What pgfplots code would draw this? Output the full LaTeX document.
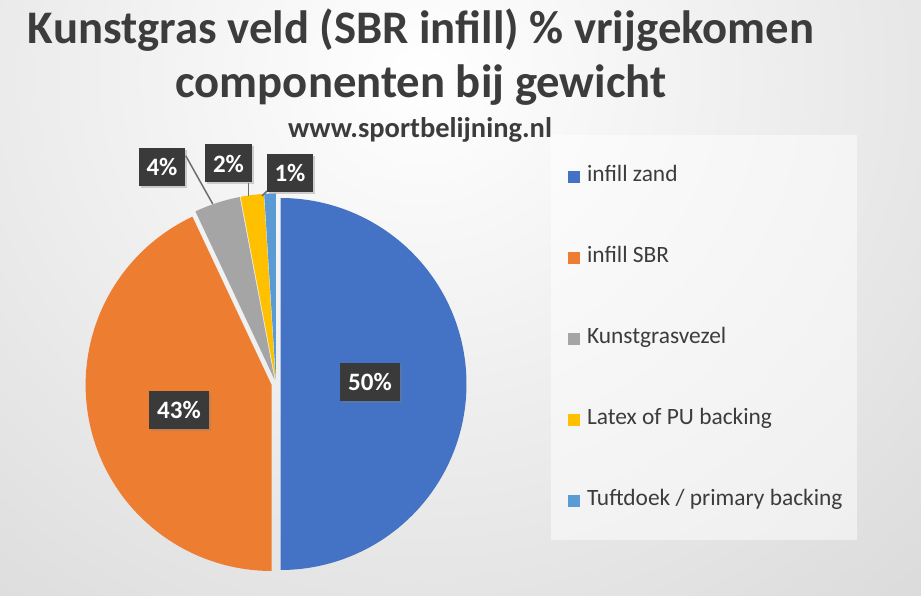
\documentclass[border=0pt]{standalone}
\usepackage{fontspec}
\setmainfont{Carlito}
\usepackage{pgfplots}
\pgfplotsset{compat=1.18}
\usetikzlibrary{shadows}
\definecolor{cA}{HTML}{4472C4}
\definecolor{cB}{HTML}{ED7D31}
\definecolor{cC}{HTML}{A5A5A5}
\definecolor{cD}{HTML}{FFC000}
\definecolor{cE}{HTML}{5B9BD5}
\definecolor{bgc}{HTML}{C6C6C6}
\definecolor{txt}{HTML}{3C3C3C}
\definecolor{lblbox}{HTML}{3A3A3A}
\definecolor{leader}{HTML}{6E6E6E}
% name, cumulative percent before slice, slice percent
\newcommand\defslice[3]{%
  \pgfmathsetmacro\tmpS{90-3.6*#2}%
  \pgfmathsetmacro\tmpE{90-3.6*(#2+#3)}%
  \pgfmathsetmacro\tmpX{0.0242*cos((\tmpS+\tmpE)/2)}%
  \pgfmathsetmacro\tmpY{0.0242*sin((\tmpS+\tmpE)/2)}%
  \expandafter\edef\csname pS#1\endcsname{\tmpS}%
  \expandafter\edef\csname pE#1\endcsname{\tmpE}%
  \expandafter\edef\csname pX#1\endcsname{\tmpX}%
  \expandafter\edef\csname pY#1\endcsname{\tmpY}%
}
\begin{document}
\begin{tikzpicture}[lbl/.style={fill=lblbox, text=white, font=\bfseries\fontsize{25}{30}\selectfont, inner xsep=8pt, minimum height=38pt, drop shadow={opacity=0.35, shadow xshift=2pt, shadow yshift=-2pt}}]
\useasboundingbox (0,0) rectangle (921pt,596pt);
\begin{scope}
\clip (0,0) rectangle (921pt,596pt);
\fill[bgc] (0,0) rectangle (921pt,596pt);
\shade[inner color=white, outer color=bgc] (420pt,520pt) ellipse (1180pt and 1120pt);
\end{scope}
% titles
\node[font=\bfseries\fontsize{46.7}{56}\selectfont, text=txt, anchor=base] at (421pt,552pt) {Kunstgras veld (SBR infill) \% vrijgekomen};
\node[font=\bfseries\fontsize{46.7}{56}\selectfont, text=txt, anchor=base] at (421pt,498pt) {componenten bij gewicht};
\node[font=\bfseries\fontsize{28.5}{32}\selectfont, text=txt, anchor=base] at (420pt,458pt) {www.sportbelijning.nl};
% legend panel
\fill[white, fill opacity=0.5] (551pt,56pt) rectangle (857pt,461pt);
% slices: percentages 50, 43, 4, 2, 1
\defslice{A}{0}{50}
\defslice{B}{50}{43}
\defslice{C}{93}{4}
\defslice{D}{97}{2}
\defslice{E}{99}{1}
\begin{axis}[at={(276pt,212pt)}, anchor=origin, x=186pt, y=186pt,
  xmin=-1.1, xmax=1.1, ymin=-1.1, ymax=1.1, hide axis, clip=false,
  legend style={at={(1.2136,1.0303)}, anchor=north west, draw=none, fill=none,
    inner sep=0pt, outer sep=0pt, row sep=61pt, column sep=7pt,
    font=\fontsize{23.4}{27}\selectfont, text=txt,
    nodes={inner sep=0pt, text height=15pt, text depth=5pt}},
  legend cell align=left,
  legend image code/.code={\fill[#1] (0pt,-6pt) rectangle (12pt,6pt);}
]
\addplot[fill=cA, draw=none, domain=\pEA:\pSA, samples=120] ({\pXA+cos(x)},{\pYA+sin(x)}) -- (axis cs:\pXA,\pYA) -- cycle;
\addlegendentry{infill zand}
\addplot[fill=cB, draw=none, domain=\pEB:\pSB, samples=120] ({\pXB+cos(x)},{\pYB+sin(x)}) -- (axis cs:\pXB,\pYB) -- cycle;
\addlegendentry{infill SBR}
\addplot[fill=cC, draw=none, domain=\pEC:\pSC, samples=20] ({\pXC+cos(x)},{\pYC+sin(x)}) -- (axis cs:\pXC,\pYC) -- cycle;
\addlegendentry{Kunstgrasvezel}
\addplot[fill=cD, draw=none, domain=\pED:\pSD, samples=20] ({\pXD+cos(x)},{\pYD+sin(x)}) -- (axis cs:\pXD,\pYD) -- cycle;
\addlegendentry{Latex of PU backing}
\addplot[fill=cE, draw=none, domain=\pEE:\pSE, samples=10] ({\pXE+cos(x)},{\pYE+sin(x)}) -- (axis cs:\pXE,\pYE) -- cycle;
\addlegendentry{Tuftdoek / primary backing}
% leader lines
\draw[leader, line width=1.5pt] (axis cs:-0.4855,1.2274) -- (axis cs:-0.340,0.9677);
\draw[leader, line width=1.5pt] (axis cs:-0.149,1.079) -- (axis cs:-0.149,1.0108);
\draw[leader, line width=1.5pt] (axis cs:-0.048,1.038) -- (axis cs:-0.075,1.011);
% data labels
\node[lbl] at (axis cs:0.505,0.011) {50\%};
\node[lbl] at (axis cs:-0.5215,-0.1398) {43\%};
\node[lbl] at (axis cs:-0.613,1.167) {4\%};
\node[lbl] at (axis cs:-0.2554,1.1855) {2\%};
\node[lbl] at (axis cs:0.0753,1.137) {1\%};
\end{axis}
\end{tikzpicture}
\end{document}
